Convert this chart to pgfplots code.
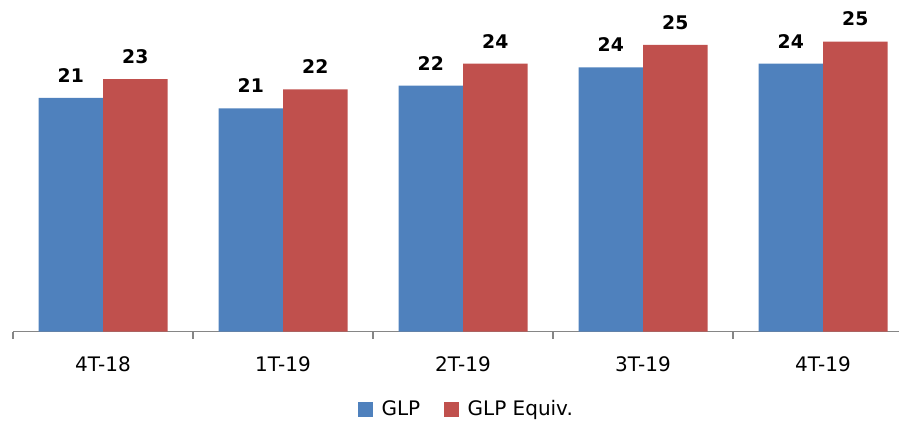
\documentclass[border=0pt]{standalone}
\usepackage{pgfplots}
\pgfplotsset{compat=1.18}
\usepackage{fontspec}
\setmainfont{DejaVu Sans}
\definecolor{glpblue}{HTML}{4F81BD}
\definecolor{glpred}{HTML}{C0504D}
\definecolor{axgray}{HTML}{868686}

\begin{document}
\begin{tikzpicture}
\begin{axis}[
  name=ax,
  scale only axis,
  width=450pt, height=166.1pt,
  xmin=-0.5, xmax=4.5,
  ymin=6, ymax=28,
  ybar=0pt, bar width=32.25pt,
  /pgf/number format/assume math mode=true,
  axis x line*=bottom,
  axis y line=none,
  x axis line style={draw=axgray, line width=0.6pt},
  xtick={0,1,2,3,4},
  xticklabels={4T-18,1T-19,2T-19,3T-19,4T-19},
  major x tick style={draw=none},
  minor xtick={-0.5,0.5,1.5,2.5,3.5,4.5},
  minor x tick style={draw=axgray, line width=0.6pt},
  minor tick length=3.5pt,
  tick align=outside,
  xticklabel style={font=\fontsize{10}{12}\selectfont, yshift=-4.8pt},
  nodes near coords={\pgfmathprintnumber[fixed,precision=0]{\pgfplotspointmeta}},
  nodes near coords style={font=\bfseries\fontsize{9.4}{11}\selectfont, yshift=4.2pt, text=black},
  legend style={at={(0.505,-0.233)}, anchor=center, draw=none, legend columns=-1,
    font=\fontsize{10}{12}\selectfont,
    /tikz/every odd column/.append style={column sep=2.2pt},
    /tikz/every even column/.append style={column sep=10pt}},
]
\addplot[fill=glpblue, draw=none,
  legend image code/.code={\fill[glpblue] (0pt,-3.75pt) rectangle (7.5pt,3.75pt);}]
  coordinates {(0,21.48) (1,20.79) (2,22.29) (3,23.51) (4,23.75)};
\addplot[fill=glpred, draw=none,
  legend image code/.code={\fill[glpred] (0pt,-3.75pt) rectangle (7.5pt,3.75pt);}]
  coordinates {(0,22.72) (1,22.05) (2,23.75) (3,24.99) (4,25.21)};
\legend{GLP, GLP Equiv.}
\end{axis}
\pgfresetboundingbox
\useasboundingbox ([xshift=-6.5pt,yshift=-44.65pt]ax.south west) rectangle ++(449.5pt,210.5pt);
\end{tikzpicture}
\end{document}
